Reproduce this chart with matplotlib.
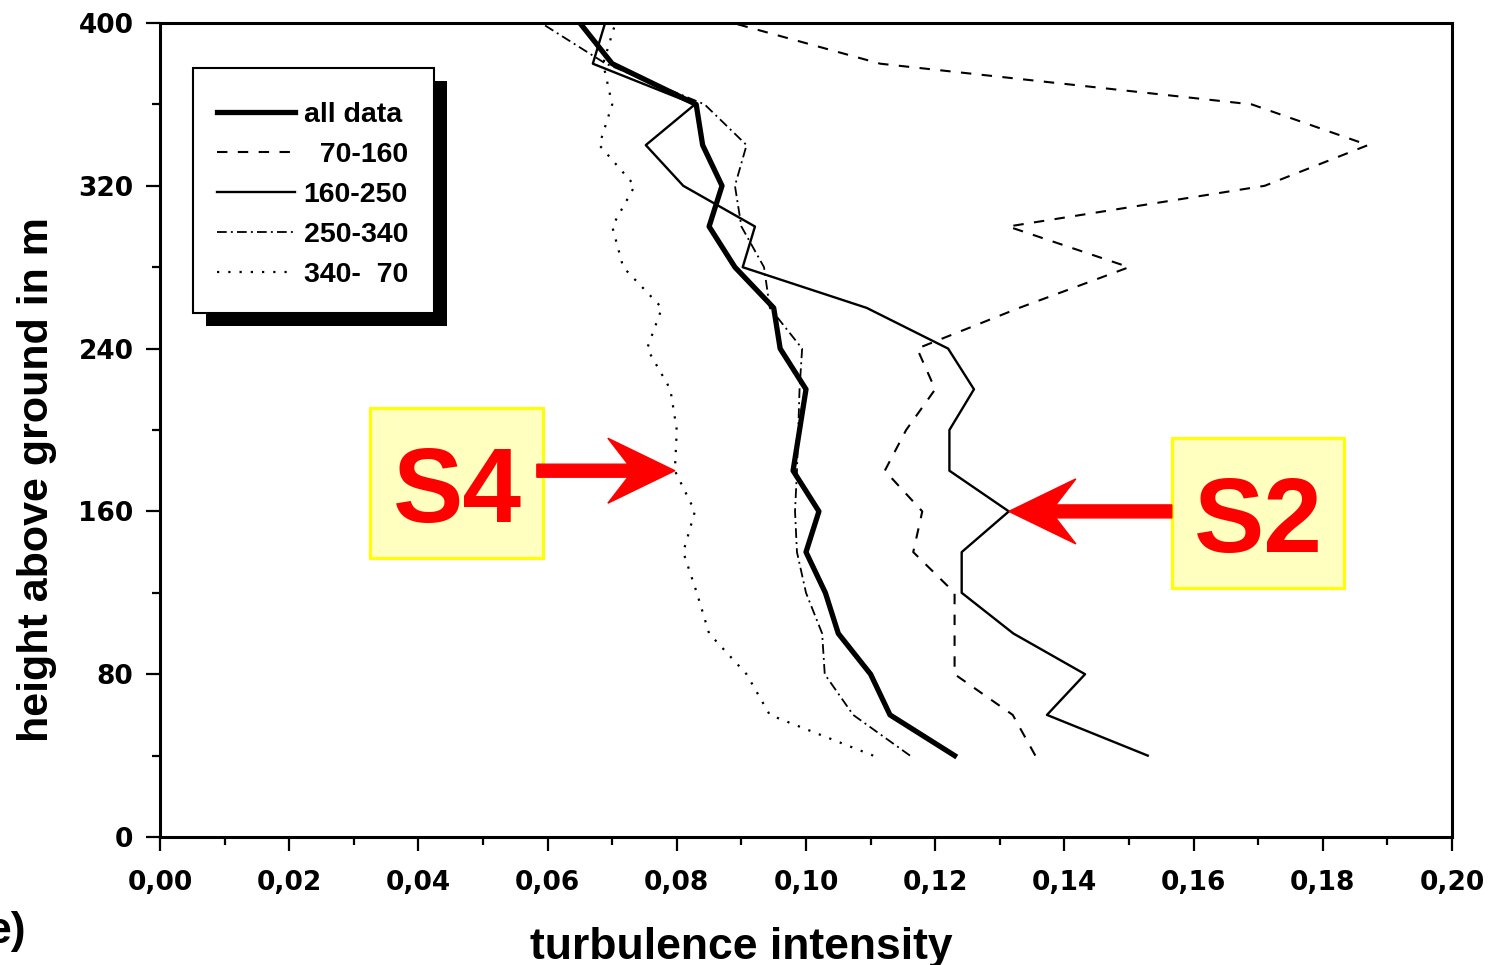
import matplotlib
matplotlib.use("Agg")
import matplotlib.pyplot as plt
from matplotlib.patches import FancyArrow, Rectangle
from matplotlib.ticker import FuncFormatter, MultipleLocator

# ── data (height in m, turbulence intensity) ─────────────────────────────────
height = [40, 60, 80, 100, 120, 140, 160, 180, 200, 220,
          240, 260, 280, 300, 320, 340, 360, 380, 400]
all_data = [0.123, 0.113, 0.110, 0.105, 0.103, 0.100, 0.102, 0.098, 0.099, 0.100,
            0.096, 0.095, 0.089, 0.085, 0.087, 0.084, 0.083, 0.070, 0.065]
dir_70_160 = [0.1355, 0.132, 0.123, 0.123, 0.123, 0.1166, 0.118, 0.1122, 0.1155, 0.120,
              0.1172, 0.133, 0.150, 0.1313, 0.171, 0.187, 0.169, 0.1115, 0.0887]
dir_160_250 = [0.1529, 0.1373, 0.1432, 0.1321, 0.1241, 0.1241, 0.1314, 0.1222, 0.1222, 0.126,
               0.122, 0.1094, 0.0902, 0.0921, 0.081, 0.0752, 0.0828, 0.067, 0.0689]
dir_250_340 = [0.1161, 0.1073, 0.1029, 0.1025, 0.100, 0.0986, 0.0983, 0.0986, 0.0988, 0.099,
               0.0994, 0.0944, 0.0935, 0.090, 0.089, 0.0908, 0.0843, 0.069, 0.059]
dir_340_70 = [0.1104, 0.0944, 0.0908, 0.085, 0.0831, 0.081, 0.0828, 0.0797, 0.080, 0.079,
              0.0754, 0.0777, 0.0717, 0.070, 0.0735, 0.068, 0.070, 0.0686, 0.0705]

W, H = 1501, 965

plt.rcParams["font.family"] = ["Liberation Sans", "DejaVu Sans"]
plt.rcParams["font.weight"] = "bold"
plt.rcParams["lines.scale_dashes"] = False

fig = plt.figure(figsize=(W / 100, H / 100), dpi=100)
ax = fig.add_axes([160 / W, 1 - 837 / H, 1292 / W, 814 / H])

series = [
    ("all data", all_data, dict(lw=3.8, ls="-")),
    ("  70-160", dir_70_160, dict(lw=1.5, ls=(0, (7.5, 7.5)))),
    ("160-250", dir_160_250, dict(lw=1.7, ls="-")),
    ("250-340", dir_250_340, dict(lw=1.3, ls=(0, (7, 3, 1.4, 3)))),
    ("340-  70", dir_340_70, dict(lw=1.6, ls=(0, (1.6, 6.5)))),
]
for label, xs, style in series:
    ax.plot(xs, height, color="black", label=label, **style)

ax.set_xlim(0, 0.20)
ax.set_ylim(0, 400)
ax.xaxis.set_major_locator(MultipleLocator(0.02))
ax.xaxis.set_minor_locator(MultipleLocator(0.01))
ax.yaxis.set_major_locator(MultipleLocator(80))
ax.yaxis.set_minor_locator(MultipleLocator(40))
ax.xaxis.set_major_formatter(FuncFormatter(lambda v, _: f"{v:.2f}".replace(".", ",")))
ax.yaxis.set_major_formatter(FuncFormatter(lambda v, _: f"{v:.0f}"))
ax.tick_params(which="major", direction="out", length=10, width=1.6, pad=9)
ax.tick_params(axis="x", which="major", pad=14)
ax.tick_params(which="minor", direction="out", length=6, width=1.6)
for lab in ax.get_xticklabels() + ax.get_yticklabels():
    lab.set_fontfamily("DejaVu Sans")
    lab.set_fontweight("bold")
    lab.set_fontsize(19)
for sp in ax.spines.values():
    sp.set_linewidth(2.2)

ax.set_xlabel("turbulence intensity", fontsize=32, fontweight="bold")
ax.xaxis.set_label_coords(0.45, -0.11)
ax.set_ylabel("height above ground in m", fontsize=31, fontweight="bold")
ax.yaxis.set_label_coords(-0.08, 0.439)

# legend: contents from matplotlib, frame + black shadow drawn by hand (pixel box)
LEG_BOX = (193, 68, 241, 245)  # left, top, width, height in px
lx, ly, lw_, lh = LEG_BOX
ax.add_patch(Rectangle(((lx + 13) / 100, (H - ly - lh - 13) / 100), lw_ / 100, lh / 100,
                       transform=fig.dpi_scale_trans, facecolor="black",
                       edgecolor="none", clip_on=False, zorder=4.8))
ax.add_patch(Rectangle((lx / 100, (H - ly - lh) / 100), lw_ / 100, lh / 100,
                       transform=fig.dpi_scale_trans, facecolor="white",
                       edgecolor="black", lw=1.5, clip_on=False, zorder=4.9))
leg = ax.legend(loc="upper left", bbox_to_anchor=((217 - 160) / 1292, 1 - (102 - 23) / 814),
                borderaxespad=0, borderpad=0, frameon=False,
                handlelength=2.74, handletextpad=0.3, labelspacing=0.49,
                prop=dict(family="Liberation Sans", weight="bold", size=20.5))
leg.set_zorder(5)


def label_box(x, y, w, h, text, tx, ty):
    fig.add_artist(Rectangle((x / W, 1 - (y + h) / H), w / W, h / H,
                             transform=fig.transFigure, facecolor="#ffffc0",
                             edgecolor="#ffff00", lw=2.2, zorder=3))
    fig.text(tx / W, 1 - ty / H, text, color="red", fontsize=76,
             fontweight="bold", ha="center", va="baseline", zorder=4)


def arrow_to(x, y, length_px):
    tip = ax.transData.transform((x, y)) / 100
    dx = length_px / 100
    fig.add_artist(FancyArrow(tip[0] - dx, tip[1], dx, 0, width=0.13,
                              head_width=0.65, head_length=0.67, overhang=0.3,
                              length_includes_head=True, color="red",
                              transform=fig.dpi_scale_trans, zorder=5))


label_box(370, 408, 173, 150, "S4", 457, 522)
label_box(1172, 438, 172, 150, "S2", 1258, 552)
arrow_to(dir_340_70[7], height[7], 138)
arrow_to(dir_160_250[6], height[6], -163)

fig.text(26 / W, 1 - 943 / H, "e)", fontsize=32, fontweight="bold", ha="right", va="baseline")

fig.savefig("out.png", dpi=100)
